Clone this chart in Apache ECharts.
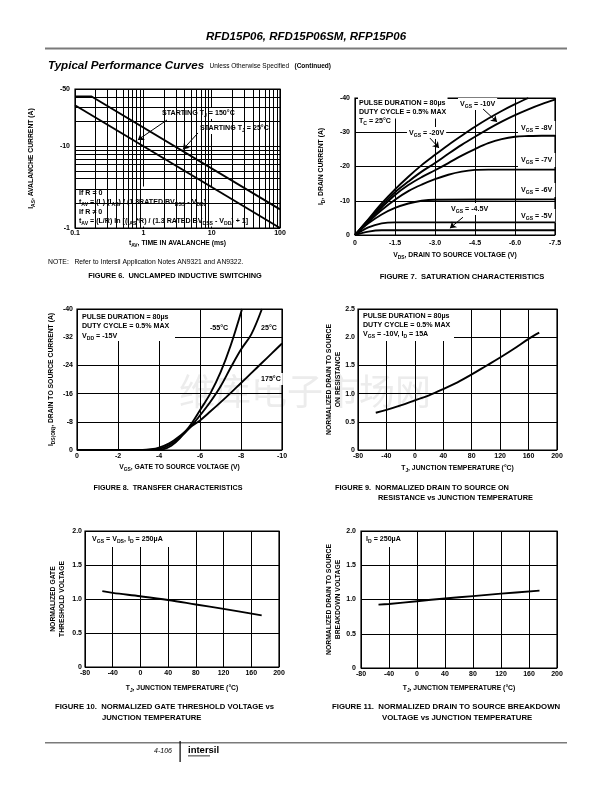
<!DOCTYPE html>
<html><head><meta charset="utf-8">
<script src="https://cdn.jsdelivr.net/npm/echarts@6/dist/echarts.min.js"></script>
<style>html,body{margin:0;padding:0;background:#fff}#c{width:612px;height:792px}</style>
</head><body><div id="c"></div>
<script>
const FONT = 'Liberation Sans';

// ---------- DATA ----------
// Figure 6: unclamped inductive switching (log-log)
const fig6Tav150 = [0.1, 100];
const fig6Ias150 = [31.6, 1.0];
const fig6Tav25 = [0.1, 0.175, 100];
const fig6Ias25 = [40.5, 40.5, 1.69];
const fig6MinorX = [0.2,0.3,0.4,0.5,0.6,0.7,0.8,0.9,2,3,4,5,6,7,8,9,20,30,40,50,60,70,80,90];
const fig6MinorY = [2,3,4,5,6,7,8,9,20,30,40];

// Figure 7: saturation characteristics  [|VDS|, |ID|]
const fig7Vgs20 = [[0,0],[0.5,4.6],[1,9.2],[1.5,13.3],[2,17],[2.5,20.4],[3,23.4],[3.5,26.3],[4,29],[4.5,31.6],[5,34],[5.5,36.2],[6,38.2],[6.5,40]];
const fig7Vgs10 = [[0,0],[0.5,4.4],[1,8.6],[1.5,12.5],[2,15.6],[2.5,18.5],[3,21],[3.5,23.7],[4,26.3],[4.5,28.7],[5,31],[5.5,33.1],[6,35],[6.5,36.7],[7,38.2],[7.5,39.5]];
const fig7Vgs8  = [[0,0],[0.5,4.1],[1,8],[1.5,11.7],[2,14.6],[2.5,16.9],[3,18.9],[3.5,21],[4,23.2],[4.5,25.1],[5,26.8],[5.5,28],[6,28.7],[6.5,28.9],[7,29],[7.5,29]];
const fig7Vgs7  = [[0,0],[0.5,3.8],[1,7.3],[1.5,10.3],[2,12.8],[2.5,14.7],[3,16.3],[3.5,17.6],[4,18.5],[4.5,19],[5,19.1],[7.5,19.1]];
const fig7Vgs6  = [[0,0],[0.5,3.4],[1,6],[1.5,7.9],[2,9.2],[2.5,10],[3,10.3],[7.5,10.4]];
const fig7Vgs5  = [[0,0],[0.5,2.2],[1,3.4],[1.5,3.7],[7.5,3.7]];
const fig7Vgs45 = [[0,0],[0.5,1.0],[1,1.4],[7.5,1.4]];
const fig7XTicks = [0, 1.5, 3.0, 4.5, 6.0, 7.5];
const fig7YTicks = [0, 10, 20, 30, 40];

// Figure 8: transfer characteristics  [|VGS|, |ID|]
const fig8T55  = [[0,0],[3.8,0],[4.2,0.2],[4.6,1.2],[5,3.2],[5.5,6.8],[6,11.3],[6.5,16],[7,22],[7.5,29.7],[8.05,40]];
const fig8T25  = [[0,0],[3.5,0],[4,0.3],[4.5,1.4],[5,3.5],[5.5,6.3],[6,9.8],[6.5,13.6],[7,18],[7.5,23.4],[8,28.5],[8.5,32.8],[9.02,40]];
const fig8T175 = [[0,0],[3.2,0],[3.6,0.2],[4,0.7],[4.5,1.9],[5,3.9],[5.5,6.4],[6,8.4],[6.5,10.9],[7,13.5],[7.5,16.2],[8,19],[8.5,21.8],[9,24.6],[9.5,27.4],[10,30.2]];
const fig8XTicks = [0, 2, 4, 6, 8, 10];
const fig8YTicks = [0, 8, 16, 24, 32, 40];

// Figures 9-11: vs junction temperature
const tjTicks = [-80, -40, 0, 40, 80, 120, 160, 200];
const fig9Rds = [[-55,0.66],[-40,0.71],[-20,0.79],[0,0.88],[20,0.97],[40,1.08],[60,1.2],[80,1.34],[100,1.49],[120,1.64],[140,1.8],[160,1.97],[175,2.08]];
const fig9YTicks = [0, 0.5, 1.0, 1.5, 2.0, 2.5];
const fig10Vth = [[-55,1.115],[-40,1.09],[0,1.04],[40,0.985],[80,0.92],[120,0.855],[175,0.76]];
const fig11Bv  = [[-55,0.925],[-40,0.935],[0,0.975],[40,1.015],[80,1.05],[120,1.085],[175,1.13]];
const normYTicks = [0, 0.5, 1.0, 1.5, 2.0];

// ---------- HELPERS ----------
function rt(str){
  return str.split('\n').map(line => {
    const parts = line.split(/_\{([^}]*)\}/);
    return parts.map((p,i) => p === '' ? '' : (i % 2 ? '{s|' + p + '}' : '{b|' + p + '}')).join('');
  }).join('\n');
}
function richStyle(fs, lh, weight, style){
  const w = weight || 'bold', st = style || 'normal';
  return {
    b: {fontSize: fs, fontWeight: w, fontStyle: st, fontFamily: FONT, fill:'#000', color:'#000', lineHeight: lh, verticalAlign:'middle'},
    s: {fontSize: +(fs*0.72).toFixed(2), fontWeight: w, fontStyle: st, fontFamily: FONT, fill:'#000', color:'#000', lineHeight: Math.round(fs*0.7), verticalAlign:'bottom'}
  };
}
function gtext(x, y, str, o){
  o = o || {};
  const fs = o.fs || 7.1, lh = o.lh || Math.round(fs*1.4);
  const st = {text: rt(str), rich: richStyle(fs, lh, o.weight, o.fstyle),
    align: o.align || 'left', verticalAlign: o.va || 'middle',
    textAlign: o.align || 'left', textVerticalAlign: o.va || 'middle'};
  if (o.bg) { st.backgroundColor = o.bg; st.padding = o.pad || [1,2]; }
  return {type:'text', x: x, y: y, z: (o.z != null ? o.z : 2), silent: true, style: st};
}
function rect(x, y, w, h, fill, z){
  return {type:'rect', z: (z != null ? z : 2), silent:true, shape:{x:x, y:y, width:w, height:h}, style:{fill: fill, stroke: null}};
}
const negFmt1 = v => v === 0 ? '0' : '-' + v.toFixed(1);
const negFmt0 = v => v === 0 ? '0' : '-' + Math.round(v);
const decFmt  = v => v === 0 ? '0' : v.toFixed(1);

function axis(gi, ticks, fmt, margin, name, nameGap, extra){
  const a = {
    gridIndex: gi, type:'value',
    min: ticks[0], max: ticks[ticks.length-1], interval: ticks[1]-ticks[0],
    axisLine:{show:false}, axisTick:{show:false},
    splitLine:{show:true, lineStyle:{color:'#000', width:1}},
    axisLabel:{color:'#000', fontSize:7, fontWeight:'bold', fontFamily:FONT, margin: margin, formatter: fmt},
    name: rt(name), nameLocation:'middle', nameGap: nameGap,
    nameTextStyle:{rich: richStyle(6.8, 9)}
  };
  return Object.assign(a, extra || {});
}
function curve(gi, data, smooth){
  return {type:'line', xAxisIndex: gi, yAxisIndex: gi, data: data, z: 3, silent: true,
    showSymbol:false, symbol:'none', smooth: smooth, clip:true,
    lineStyle:{color:'#000', width:1.9}};
}
function arrows(gi, segs){
  return {type:'line', xAxisIndex: gi, yAxisIndex: gi, data: [], z: 3, silent:true,
    markLine:{silent:true, symbol:['none','arrow'], symbolSize:6, animation:false,
      label:{show:false}, lineStyle:{color:'#000', width:1, type:'solid'},
      emphasis:{disabled:true},
      data: segs.map(s => [{coord: s[0]}, {coord: s[1]}])}};
}
const zip = (xs, ys) => xs.map((x,i) => [x, ys[i]]);

// ---------- OPTION ----------
const grids = [
  {left:75,  top:89,  width:205, height:139},
  {left:355, top:98,  width:200, height:137},
  {left:77,  top:309, width:205, height:141},
  {left:358, top:309, width:199, height:141},
  {left:85,  top:531, width:194, height:136},
  {left:361, top:531, width:196, height:137}
].map(g => Object.assign({show:true, borderColor:'#000', borderWidth:1.2, containLabel:false}, g));

const labelBase = {color:'#000', fontSize:7, fontWeight:'bold', fontFamily:FONT};

const xAxes = [
  {gridIndex:0, type:'log', logBase:10, min:0.1, max:100,
   axisLine:{show:false}, axisTick:{show:false},
   splitLine:{show:true, lineStyle:{color:'#000', width:1}},
   axisLabel: Object.assign({margin:2, formatter: v => v < 1 ? v.toFixed(1) : String(Math.round(v))}, labelBase),
   name: rt('t_{AV}, TIME IN AVALANCHE (ms)'), nameLocation:'middle', nameGap:11,
   nameTextStyle:{rich: richStyle(6.8, 9)}},
  axis(1, fig7XTicks, negFmt1, 4.5, 'V_{DS}, DRAIN TO SOURCE VOLTAGE (V)', 16),
  axis(2, fig8XTicks, negFmt0, 2.5, 'V_{GS}, GATE TO SOURCE VOLTAGE (V)', 13),
  axis(3, tjTicks, v => String(v), 2.5, 'T_{J}, JUNCTION TEMPERATURE (°C)', 14),
  axis(4, tjTicks, v => String(v), 2.5, 'T_{J}, JUNCTION TEMPERATURE (°C)', 17),
  axis(5, tjTicks, v => String(v), 2.5, 'T_{J}, JUNCTION TEMPERATURE (°C)', 16)
];
const yAxes = [
  {gridIndex:0, type:'log', logBase:10, min:1, max:50,
   axisLine:{show:false}, axisTick:{show:false},
   splitLine:{show:true, lineStyle:{color:'#000', width:1}},
   axisLabel: Object.assign({margin:5, formatter: v => '-' + Math.round(v)}, labelBase),
   name: rt('I_{AS}, AVALANCHE CURRENT (A)'), nameLocation:'middle', nameGap:39,
   nameTextStyle:{rich: richStyle(6.8, 9)}},
  axis(1, fig7YTicks, negFmt0, 5, 'I_{D}, DRAIN CURRENT (A)', 29),
  axis(2, fig8YTicks, negFmt0, 4, 'I_{DS(ON)}, DRAIN TO SOURCE CURRENT (A)', 21),
  axis(3, fig9YTicks, decFmt, 3, 'NORMALIZED DRAIN TO SOURCE\nON RESISTANCE', 15),
  axis(4, normYTicks, decFmt, 3, 'NORMALIZED GATE\nTHRESHOLD VOLTAGE', 18),
  axis(5, normYTicks, decFmt, 5, 'NORMALIZED DRAIN TO SOURCE\nBREAKDOWN VOLTAGE', 18)
];

const series = [
  // Fig 6 minor log grid lines
  {type:'line', xAxisIndex:0, yAxisIndex:0, data:[], z:1, silent:true,
   markLine:{silent:true, symbol:['none','none'], animation:false, label:{show:false},
     emphasis:{disabled:true},
     lineStyle:{color:'#000', width:1, type:'solid'},
     data: fig6MinorX.map(v => ({xAxis:v})).concat(fig6MinorY.map(v => ({yAxis:v})))}},
  curve(0, zip(fig6Tav150, fig6Ias150), false),
  curve(0, zip(fig6Tav25, fig6Ias25), false),
  arrows(0, [[[2.22,20.9],[0.83,11.9]], [[6.3,14.5],[3.8,9.1]]]),
  curve(1, fig7Vgs20, 0.35), curve(1, fig7Vgs10, 0.35), curve(1, fig7Vgs8, 0.35),
  curve(1, fig7Vgs7, 0.35), curve(1, fig7Vgs6, 0.35), curve(1, fig7Vgs5, 0.35), curve(1, fig7Vgs45, 0.35),
  arrows(1, [[[4.8,36.8],[5.33,33.0]], [[2.81,28.3],[3.15,25.4]], [[4.05,5.2],[3.56,2.0]]]),
  curve(2, fig8T55, 0.35), curve(2, fig8T25, 0.35), curve(2, fig8T175, 0.35),
  curve(3, fig9Rds, 0.35),
  curve(4, fig10Vth, 0.35),
  curve(5, fig11Bv, 0.35)
];

const W = '#fff';
const graphic = [
  // watermark
  {type:'text', x:305, y:391, z:-1, silent:true,
   style:{text:'维库电子市场网', font:'36px "Noto Sans CJK SC"', fill:'#ececec', align:'center', verticalAlign:'middle', textAlign:'center', textVerticalAlign:'middle'}},
  // header
  gtext(306, 37, 'RFD15P06, RFD15P06SM, RFP15P06', {fs:11.5, fstyle:'italic', align:'center'}),
  rect(45, 47.5, 522, 2, '#7a7a7a'),
  {type:'text', x:48, y:66, z:2, silent:true, style:{
    text:'{t|Typical Performance Curves}{n|   Unless Otherwise Specified   }{c|(Continued)}',
    align:'left', verticalAlign:'middle', textAlign:'left', textVerticalAlign:'middle',
    rich:{t:{fontSize:11.6, fontWeight:'bold', fontStyle:'italic', fontFamily:FONT, fill:'#000', color:'#000'},
          n:{fontSize:6.5, fontFamily:FONT, fill:'#000', color:'#000'},
          c:{fontSize:6.5, fontWeight:'bold', fontFamily:FONT, fill:'#000', color:'#000'}}}},
  // footer
  rect(45, 742, 522, 1.5, '#7a7a7a'),
  gtext(172, 751, '4-106', {fs:7, weight:'normal', fstyle:'italic', align:'right'}),
  rect(179.5, 741, 1.2, 21, '#000'),
  gtext(188, 750, 'intersil', {fs:9.5}),
  rect(188, 755.5, 22, 0.8, '#000'),

  // Fig 6
  gtext(160, 113, 'STARTING T_{J} = 150°C', {bg:W}),
  gtext(198, 128, 'STARTING T_{J} = 25°C', {bg:W}),
  rect(76.5, 186.5, 180, 40, W),
  gtext(79, 193, 'If R = 0', {fs:7.1}),
  gtext(79, 202.5, 't_{AV} = (L) (I_{AS}) / (1.3RATED BV_{DSS} - V_{DD})', {fs:7.1}),
  gtext(79, 212.5, 'If R ≠ 0', {fs:7.1}),
  gtext(79, 221.5, 't_{AV} = (L/R) ln [(I_{AS}*R) / (1.3 RATED BV_{DSS} - V_{DD}) + 1]', {fs:7.1}),
  gtext(48, 262, 'NOTE:   Refer to Intersil Application Notes AN9321 and AN9322.', {fs:6.8, weight:'normal'}),
  gtext(175, 276, 'FIGURE 6.  UNCLAMPED INDUCTIVE SWITCHING', {fs:7.4, align:'center'}),

  // Fig 7
  gtext(358, 103, 'PULSE DURATION = 80µs', {bg:W, pad:[1,2,1,1]}),
  gtext(358, 112.5, 'DUTY CYCLE = 0.5% MAX', {bg:W, pad:[1,2,1,1]}),
  gtext(358, 122, 'T_{C} = 25°C', {bg:W, pad:[1,4,2,1]}),
  gtext(458, 104, 'V_{GS} = -10V', {bg:W}),
  gtext(407, 133, 'V_{GS} = -20V', {bg:W}),
  gtext(518, 128, 'V_{GS} = -8V', {bg:W, pad:[2,3]}),
  gtext(518, 160, 'V_{GS} = -7V', {bg:W, pad:[2,3]}),
  gtext(518, 190, 'V_{GS} = -6V', {bg:W, pad:[2,3]}),
  gtext(449, 209, 'V_{GS} = -4.5V', {bg:W}),
  gtext(518, 216, 'V_{GS} = -5V', {bg:W, pad:[2,3]}),
  gtext(462, 277, 'FIGURE 7.  SATURATION CHARACTERISTICS', {fs:7.6, align:'center'}),

  // Fig 8
  rect(78, 310, 97, 31, W),
  gtext(82, 317, 'PULSE DURATION = 80µs'),
  gtext(82, 326.5, 'DUTY CYCLE = 0.5% MAX'),
  gtext(82, 336, 'V_{DD} = -15V'),
  gtext(208, 328, '-55°C', {bg:W}),
  gtext(259, 328, '25°C', {bg:W}),
  gtext(259, 379, '175°C', {bg:W}),
  gtext(168, 488, 'FIGURE 8.  TRANSFER CHARACTERISTICS', {fs:7.2, align:'center'}),

  // Fig 9
  rect(359, 310, 95, 31, W),
  gtext(363, 316, 'PULSE DURATION = 80µs'),
  gtext(363, 325, 'DUTY CYCLE = 0.5% MAX'),
  gtext(363, 334.5, 'V_{GS} = -10V, I_{D} = 15A'),
  gtext(335, 488, 'FIGURE 9.  NORMALIZED DRAIN TO SOURCE ON', {fs:7.4}),
  gtext(378, 498, 'RESISTANCE vs JUNCTION TEMPERATURE', {fs:7.4}),

  // Fig 10
  rect(86, 532, 83, 15, W),
  gtext(92, 539, 'V_{GS} = V_{DS}, I_{D} = 250µA'),
  gtext(55, 707, 'FIGURE 10.  NORMALIZED GATE THRESHOLD VOLTAGE vs', {fs:7.7}),
  gtext(102, 718, 'JUNCTION TEMPERATURE', {fs:7.7}),

  // Fig 11
  rect(362, 532, 47, 15, W),
  gtext(366, 539, 'I_{D} = 250µA'),
  gtext(332, 707, 'FIGURE 11.  NORMALIZED DRAIN TO SOURCE BREAKDOWN', {fs:7.8}),
  gtext(382, 718, 'VOLTAGE vs JUNCTION TEMPERATURE', {fs:7.8})
];

const chart = echarts.init(document.getElementById('c'), null, {renderer:'canvas'});
chart.setOption({
  animation:false,
  backgroundColor:'#fff',
  grid: grids, xAxis: xAxes, yAxis: yAxes, series: series, graphic: graphic
});
</script></body></html>
